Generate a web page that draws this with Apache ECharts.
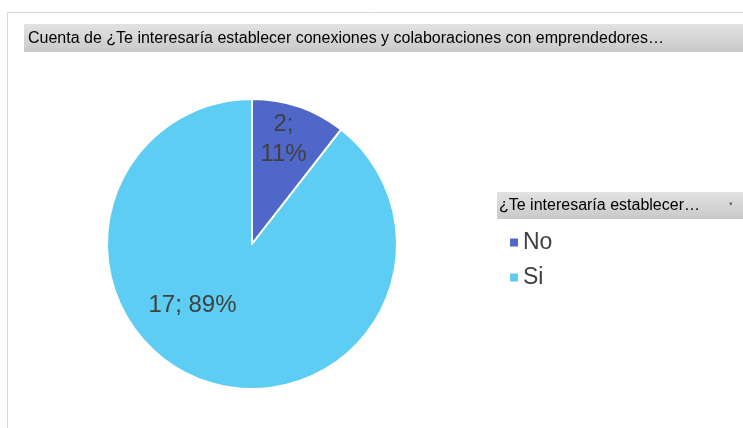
<!DOCTYPE html>
<html>
<head>
<meta charset="utf-8">
<script src="https://cdn.jsdelivr.net/npm/echarts@6/dist/echarts.min.js"></script>
<style>
  html, body { margin: 0; padding: 0; background: #fff; }
  #chart { width: 743px; height: 428px; }
</style>
</head>
<body>
<div id="chart"></div>
<script>
// datos del gráfico
const categories = ['No', 'Si']
const counts = [2, 17]
const colors = ['#4F67C9', '#5DCDF3']
const titleText = 'Cuenta de ¿Te interesaría establecer conexiones y colaboraciones con emprendedores…'
const legendTitle = '¿Te interesaría establecer…'

const chart = echarts.init(document.getElementById('chart'))

const grayBar = {
  type: 'linear', x: 0, y: 0, x2: 0, y2: 1,
  colorStops: [{ offset: 0, color: '#e2e2e2' }, { offset: 1, color: '#c9c9c9' }],
}

// posición de las etiquetas estilo Excel
const labelShift = [
  { dx: 7, dy: -33 },
  { dx: -35, dy: -10 },
]

chart.setOption({
  animation: false,
  color: colors,
  graphic: [
    {
      type: 'rect',
      shape: { x: 7.5, y: 12.5, width: 800, height: 500 },
      style: { fill: 'none', stroke: '#d9d9d9', lineWidth: 1 },
    },
    {
      type: 'rect',
      shape: { x: 24, y: 24, width: 730, height: 28 },
      style: { fill: grayBar },
    },
    {
      type: 'text',
      left: 28,
      top: 31,
      style: {
        text: titleText,
        font: '16px "Liberation Sans Narrow", "Liberation Sans", sans-serif',
        fill: '#000',
      },
    },
    {
      type: 'rect',
      shape: { x: 497, y: 192, width: 260, height: 27 },
      style: { fill: grayBar },
    },
    {
      type: 'text',
      left: 499,
      top: 198,
      style: {
        text: legendTitle,
        font: '16px "Liberation Sans Narrow", "Liberation Sans", sans-serif',
        fill: '#000',
      },
    },
    {
      type: 'text',
      left: 729,
      top: 201,
      style: { text: '▾', font: '7px sans-serif', fill: '#666' },
    },
  ],
  legend: {
    orient: 'vertical',
    left: 503,
    top: 226,
    itemWidth: 10,
    itemHeight: 10,
    itemGap: 12,
    icon: 'rect',
    textStyle: {
      fontFamily: '"Liberation Sans", Arial, sans-serif',
      fontSize: 23,
      color: '#404040',
      padding: [0, 0, 0, -1],
    },
    data: categories,
  },
  series: [
    {
      type: 'pie',
      center: [252, 244],
      radius: 145,
      startAngle: 90,
      clockwise: true,
      percentPrecision: 0,
      itemStyle: { borderColor: '#fff', borderWidth: 2 },
      label: {
        show: true,
        position: 'inside',
        fontFamily: '"Liberation Sans", Arial, sans-serif',
        fontSize: 24,
        lineHeight: 30,
        color: '#404040',
        align: 'center',
      },
      labelLayout: (params) => labelShift[params.dataIndex],
      emphasis: { disabled: true },
      data: categories.map((name, i) => ({
        name,
        value: counts[i],
        label: { formatter: i === 0 ? '{c};\n{d}%' : '{c}; {d}%' },
      })),
    },
  ],
})
</script>
</body>
</html>
